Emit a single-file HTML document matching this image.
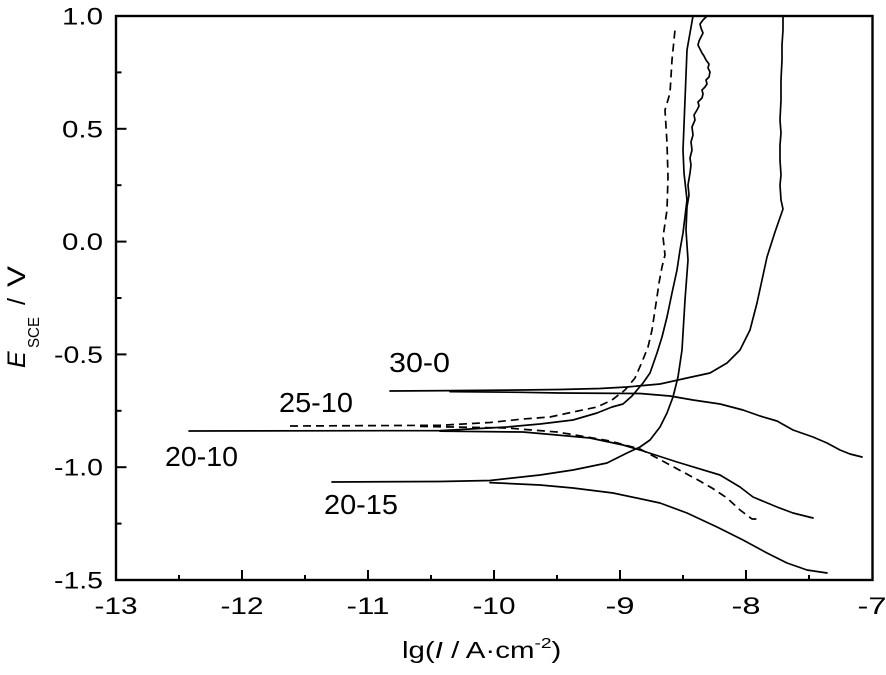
<!DOCTYPE html>
<html>
<head>
<meta charset="utf-8">
<style>
  html,body{margin:0;padding:0;background:#fff;}
  svg{display:block;}
  text{font-family:"Liberation Sans", Arial, sans-serif; fill:#000;}
</style>
</head>
<body>
<svg width="886" height="675" viewBox="0 0 886 675" xmlns="http://www.w3.org/2000/svg">
  <rect x="0" y="0" width="886" height="675" fill="#fff"/>

  <!-- curves -->
  <g fill="none" stroke="#000" stroke-width="1.7" stroke-linejoin="round" stroke-linecap="round">
    <!-- 30-0 anodic -->
    <path d="M390,391 L450,390.6 L520,390 L560,389.5 L600,388.5 L627,387 L660,384 L687,378 L710,373 L727,363 L740,350 L750,330 L757,303 L762,280 L767,257 L775,232 L783,209 L781,200 L780,185 L781,175 L780,160 L780,145 L781,133 L780,120 L781,100 L781,80 L782,60 L782,45 L783,30 L783,16"/>
    <!-- 30-0 cathodic -->
    <path d="M450,391.6 L520,392.3 L560,393 L640,393.5 L670,396 L693,400 L720,404 L743,410 L760,416 L777,421 L793,430 L813,437 L827,443 L840,450 L850,454 L862,457"/>
    <!-- 20-10 anodic -->
    <path d="M189,431 L440,430.6 L507,427 L540,424 L573,420 L597,413 L612,407 L623,404 L632,396 L643,383 L650,373 L657,353 L662,337 L667,317 L672,293 L677,270 L680,250 L683,233 L687,200 L684,173 L683,150 L684,125 L685,100 L686,75 L687,50 L690,33 L693,16"/>
    <!-- 20-10 cathodic -->
    <path d="M440,431.2 L523,432 L557,435 L590,438 L623,445 L640,450 L677,462 L720,475 L740,487 L753,497 L777,507 L793,513 L813,518"/>
    <!-- 20-15 anodic -->
    <path d="M332,482 L440,481.5 L490,480.5 L540,475 L573,470 L607,463 L627,453 L640,447 L650,440 L660,427 L667,413 L673,397 L678,377 L682,350 L685,300 L688,260 L686,230 L687,207 L689,195 L688,185 L690,173 L691,165 L690,158 L692,150 L691,142 L693,135 L692,127 L695,120 L694,115 L697,110 L699,106 L698,102 L702,98 L703,94 L702,90 L705,87 L707,84 L706,80 L709,77 L710,72 L708,68 L709,64 L706,60 L704,56 L702,53 L700,49 L698,45 L699,41 L701,37 L703,33 L701,28 L700,24 L703,20 L707,16"/>
    <!-- 20-15 cathodic -->
    <path d="M490,482.6 L540,485 L573,488 L613,493 L660,503 L687,513 L717,527 L743,540 L767,553 L787,563 L807,570 L827,573"/>
  </g>
  <g fill="none" stroke="#000" stroke-width="1.7" stroke-dasharray="8 5" stroke-linejoin="round">
    <!-- 25-10 anodic -->
    <path d="M290,426 L440,425.3 L490,422.5 L523,419 L550,417 L573,412 L597,407 L612,400 L625,390 L635,378 L642,362 L648,347 L652,330 L655,310 L657,297 L659,283 L662,267 L665,255 L663,237 L667,210 L668,177 L667,143 L665,110 L670,93 L672,60 L675,30"/>
    <!-- 25-10 cathodic -->
    <path d="M420,426.4 L507,428 L557,432 L587,437 L610,441 L640,449 L657,458 L670,465 L683,472 L698,480 L712,488 L727,498 L740,510 L752,519 L761,519"/>
  </g>

  <!-- axes frame -->
  <rect x="116" y="16" width="756.5" height="564" fill="none" stroke="#000" stroke-width="2.4"/>

  <!-- ticks -->
  <g stroke="#000" stroke-width="2">
    <line x1="116" y1="580" x2="116" y2="570"/>
    <line x1="179" y1="580" x2="179" y2="575"/>
    <line x1="242" y1="580" x2="242" y2="570"/>
    <line x1="305" y1="580" x2="305" y2="575"/>
    <line x1="368" y1="580" x2="368" y2="570"/>
    <line x1="431" y1="580" x2="431" y2="575"/>
    <line x1="494" y1="580" x2="494" y2="570"/>
    <line x1="557" y1="580" x2="557" y2="575"/>
    <line x1="620" y1="580" x2="620" y2="570"/>
    <line x1="683" y1="580" x2="683" y2="575"/>
    <line x1="746" y1="580" x2="746" y2="570"/>
    <line x1="809" y1="580" x2="809" y2="575"/>
    <line x1="116" y1="72.4" x2="121.5" y2="72.4"/>
    <line x1="116" y1="128.8" x2="126.5" y2="128.8"/>
    <line x1="116" y1="185.2" x2="121.5" y2="185.2"/>
    <line x1="116" y1="241.6" x2="126.5" y2="241.6"/>
    <line x1="116" y1="298" x2="121.5" y2="298"/>
    <line x1="116" y1="354.4" x2="126.5" y2="354.4"/>
    <line x1="116" y1="410.8" x2="121.5" y2="410.8"/>
    <line x1="116" y1="467.2" x2="126.5" y2="467.2"/>
    <line x1="116" y1="523.6" x2="121.5" y2="523.6"/>
  </g>

  <!-- y tick labels -->
  <g font-size="24" text-anchor="end">
    <text x="103" y="24.5" textLength="41" lengthAdjust="spacingAndGlyphs">1.0</text>
    <text x="103" y="137.3" textLength="41" lengthAdjust="spacingAndGlyphs">0.5</text>
    <text x="103" y="250" textLength="41" lengthAdjust="spacingAndGlyphs">0.0</text>
    <text x="103" y="363" textLength="49" lengthAdjust="spacingAndGlyphs">-0.5</text>
    <text x="103" y="475.7" textLength="49" lengthAdjust="spacingAndGlyphs">-1.0</text>
    <text x="103" y="588.3" textLength="49" lengthAdjust="spacingAndGlyphs">-1.5</text>
  </g>

  <!-- x tick labels -->
  <g font-size="24" text-anchor="middle">
    <text x="116" y="614" textLength="43" lengthAdjust="spacingAndGlyphs">-13</text>
    <text x="242" y="614" textLength="43" lengthAdjust="spacingAndGlyphs">-12</text>
    <text x="368" y="614" textLength="43" lengthAdjust="spacingAndGlyphs">-11</text>
    <text x="494" y="614" textLength="43" lengthAdjust="spacingAndGlyphs">-10</text>
    <text x="620" y="614" textLength="29" lengthAdjust="spacingAndGlyphs">-9</text>
    <text x="746" y="614" textLength="29" lengthAdjust="spacingAndGlyphs">-8</text>
    <text x="872" y="614" textLength="29" lengthAdjust="spacingAndGlyphs">-7</text>
  </g>

  <!-- curve labels -->
  <g font-size="28">
    <text x="389" y="372" textLength="61" lengthAdjust="spacingAndGlyphs">30-0</text>
    <text x="279" y="412" textLength="74" lengthAdjust="spacingAndGlyphs">25-10</text>
    <text x="165" y="466" textLength="73" lengthAdjust="spacingAndGlyphs">20-10</text>
    <text x="324" y="514" textLength="74" lengthAdjust="spacingAndGlyphs">20-15</text>
  </g>

  <!-- x axis title -->
  <g transform="translate(402,658) scale(1.28,1)">
    <text x="0" y="0" font-size="23">lg(<tspan font-style="italic">I</tspan> / A·cm<tspan font-size="15" dy="-10">-2</tspan><tspan dy="10">)</tspan></text>
  </g>

  <!-- y axis title -->
  <g transform="translate(25,368) rotate(-90)">
    <text x="0" y="0" font-size="25" font-style="italic">E</text>
    <text x="20" y="14" font-size="16" textLength="31" lengthAdjust="spacingAndGlyphs">SCE</text>
    <text x="63" y="0" font-size="25">/</text>
    <text x="81" y="0" font-size="25" textLength="21" lengthAdjust="spacingAndGlyphs">V</text>
  </g>
</svg>
</body>
</html>
